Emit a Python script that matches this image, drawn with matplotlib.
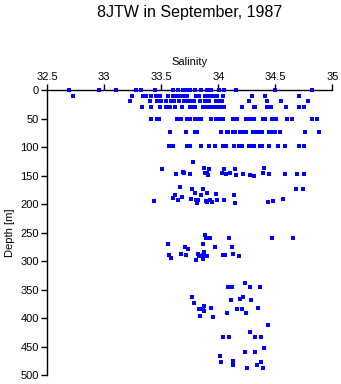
import matplotlib.pyplot as plt

plt.rcParams['font.family'] = ['Liberation Sans', 'DejaVu Sans']

# salinity / depth pairs, grouped roughly by depth band
sal_0 = [32.687, 32.953, 33.105, 33.281, 33.325, 33.447, 33.605, 33.643, 33.693, 33.722,
         33.751, 33.795, 33.845, 33.898, 33.936, 34.003, 34.050, 34.155, 34.500, 34.825]
dep_0 = [0] * len(sal_0)

sal_10 = [32.722, 33.243, 33.336, 33.365, 33.409, 33.456, 33.491, 33.561, 33.605, 33.635,
          33.664, 33.693, 33.725, 33.807, 33.827, 33.886, 33.912, 33.942, 33.959, 33.991,
          34.041, 34.292, 34.412, 34.705]
dep_10 = [10] * len(sal_10)

sal_20 = [33.225, 33.404, 33.465, 33.497, 33.541, 33.582, 33.614, 33.658, 33.699, 33.722,
          33.751, 33.789, 33.836, 33.880, 33.898, 33.921, 33.980, 33.994, 34.015, 34.032,
          34.266, 34.424, 34.553, 34.789]
dep_20 = [20] * len(sal_20)

sal_30 = [33.333, 33.412, 33.491, 33.544, 33.579, 33.617, 33.684, 33.754, 33.775, 33.798,
          33.863, 33.886, 33.904, 33.939, 33.959, 33.985, 34.018, 34.053, 34.211, 34.310,
          34.325, 34.424, 34.465, 34.591, 34.711, 34.754]
dep_30 = [30] * len(sal_30)

sal_50 = [33.412, 33.465, 33.477, 33.635, 33.675, 33.728, 33.751, 33.798, 33.822, 33.845,
          33.933, 33.977, 34.006, 34.044, 34.126, 34.155, 34.164, 34.246, 34.278, 34.316,
          34.389, 34.406, 34.474, 34.506, 34.602, 34.643, 34.825, 34.868]
dep_50 = [50] * len(sal_50)

sal_75 = [33.576, 33.716, 33.795, 33.816, 34.026, 34.073, 34.085, 34.132, 34.149, 34.190,
          34.222, 34.246, 34.301, 34.327, 34.351, 34.383, 34.447, 34.471, 34.500, 34.541,
          34.763, 34.886]
dep_75 = [74] * len(sal_75)

sal_100 = [33.570, 33.599, 33.722, 33.754, 33.851, 33.921, 33.974, 34.044, 34.064, 34.137,
           34.184, 34.211, 34.266, 34.290, 34.310, 34.363, 34.386, 34.447, 34.520, 34.585,
           34.705, 34.751]
dep_100 = [98] * len(sal_100)

sal_150 = [33.781, 33.509, 33.874, 33.921, 34.404, 33.626, 33.687, 33.699, 33.754, 33.880,
           33.898, 33.906, 34.035, 34.047, 34.070, 34.105, 34.149, 34.158, 34.216, 34.281,
           34.313, 34.395, 34.447, 34.588, 34.693, 34.749]
dep_150 = [127, 138, 137, 139, 136, 148, 143, 145, 147, 145,
           146, 149, 146, 139, 147, 146, 139, 149, 147, 149,
           150, 146, 147, 147, 147, 147]

sal_200 = [33.667, 33.772, 33.863, 34.684, 34.746, 33.798, 33.904, 33.623, 33.848, 33.982,
           34.140, 33.605, 33.684, 34.567, 33.439, 33.649, 33.763, 33.804, 33.819, 33.810,
           33.895, 33.901, 33.927, 33.947, 33.991, 34.053, 34.143, 34.436, 34.482]
dep_200 = [170, 173, 173, 173, 173, 181, 181, 184, 184, 183,
           184, 190, 188, 191, 194, 193, 191, 193, 193, 199,
           195, 197, 193, 197, 193, 193, 198, 196, 195]

sal_300 = [33.886, 33.895, 33.927, 34.096, 34.474, 34.658, 33.561, 33.868, 33.705, 33.974,
           34.120, 33.731, 33.825, 33.675, 34.132, 33.570, 33.713, 33.868, 34.044, 34.058,
           33.877, 33.833, 33.898, 34.178, 33.588, 33.868, 33.807]
dep_300 = [254, 259, 259, 259, 259, 259, 270, 270, 275, 275,
           275, 279, 287, 287, 287, 289, 289, 289, 289, 289,
           285, 292, 292, 292, 294, 296, 298]

sal_400 = [34.234, 34.082, 34.117, 34.281, 34.368, 33.772, 34.193, 34.219, 34.114, 34.290,
           33.789, 33.877, 34.351, 33.833, 33.866, 34.161, 34.211, 33.874, 33.939, 34.076,
           34.243, 33.836, 33.950]
dep_400 = [338, 345, 345, 345, 345, 363, 366, 363, 368, 368,
           374, 379, 382, 385, 385, 385, 385, 388, 382, 391,
           391, 397, 398]

sal_500 = [34.439, 34.281, 34.044, 34.096, 34.325, 34.371, 34.401, 34.237, 34.325, 34.015,
           34.026, 34.377, 34.132, 34.132, 34.339, 34.254, 34.395]
dep_500 = [412, 425, 434, 434, 434, 434, 453, 460, 460, 467,
           478, 478, 476, 483, 483, 487, 487]

salinity = (sal_0 + sal_10 + sal_20 + sal_30 + sal_50 + sal_75 + sal_100
            + sal_150 + sal_200 + sal_300 + sal_400 + sal_500)
depth = (dep_0 + dep_10 + dep_20 + dep_30 + dep_50 + dep_75 + dep_100
         + dep_150 + dep_200 + dep_300 + dep_400 + dep_500)

x_ticks = [32.5, 33, 33.5, 34, 34.5, 35]
x_labels = ['32.5', '33', '33.5', '34', '34.5', '35']
y_ticks = list(range(0, 501, 50))

fig = plt.figure(figsize=(3.41, 3.84), dpi=100)
ax = fig.add_axes([0.1387, 0.0234, 0.8358, 0.7422])
ax.plot(salinity, depth, linestyle='none', marker='s', markersize=2.3,
        markeredgewidth=0, color='#0000ff', clip_on=False, zorder=5)

ax.set_xlim(32.5, 35)
ax.set_ylim(500, 0)
ax.xaxis.tick_top()
ax.xaxis.set_label_position('top')
ax.set_xticks(x_ticks)
ax.set_xticklabels(x_labels)
ax.set_yticks(y_ticks)
ax.tick_params(direction='out', length=4, width=1, labelsize=8, pad=2)
ax.set_xlabel('Salinity', fontsize=8, labelpad=5)
ax.set_ylabel('Depth [m]', fontsize=8, labelpad=4)

for side in ['bottom', 'right']:
    ax.spines[side].set_visible(False)
for side in ['top', 'left']:
    ax.spines[side].set_linewidth(1)

fig.text(0.5566, 1 - 12 / 384, '8JTW in September, 1987', ha='center', va='center', fontsize=11.5)

fig.savefig('out.png', dpi=100)
